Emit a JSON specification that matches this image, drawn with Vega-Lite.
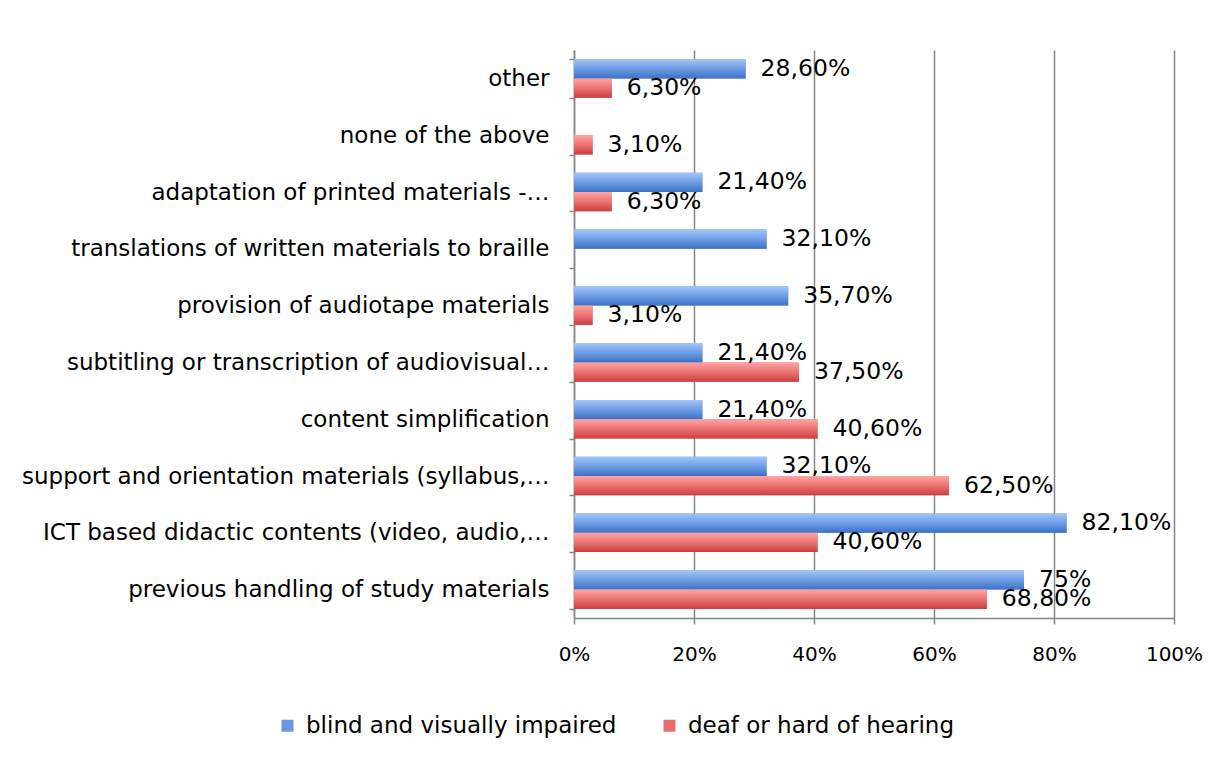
{
  "$schema": "https://vega.github.io/schema/vega-lite/v6.json",
  "width": 600,
  "height": 568,
  "autosize": "none",
  "padding": {"left": 574, "top": 50, "right": 46, "bottom": 140},
  "background": "white",
  "config": {
    "font": "DejaVu Sans",
    "view": {"stroke": null}
  },
  "data": {
    "values": [
      {"category": "other", "series": "blind and visually impaired", "value": 28.6, "label": "28,60%"},
      {"category": "other", "series": "deaf or hard of hearing", "value": 6.3, "label": "6,30%"},
      {"category": "none of the above", "series": "deaf or hard of hearing", "value": 3.1, "label": "3,10%"},
      {"category": "adaptation of printed materials -…", "series": "blind and visually impaired", "value": 21.4, "label": "21,40%"},
      {"category": "adaptation of printed materials -…", "series": "deaf or hard of hearing", "value": 6.3, "label": "6,30%"},
      {"category": "translations of written materials to braille", "series": "blind and visually impaired", "value": 32.1, "label": "32,10%"},
      {"category": "provision of audiotape materials", "series": "blind and visually impaired", "value": 35.7, "label": "35,70%"},
      {"category": "provision of audiotape materials", "series": "deaf or hard of hearing", "value": 3.1, "label": "3,10%"},
      {"category": "subtitling or transcription of audiovisual…", "series": "blind and visually impaired", "value": 21.4, "label": "21,40%"},
      {"category": "subtitling or transcription of audiovisual…", "series": "deaf or hard of hearing", "value": 37.5, "label": "37,50%"},
      {"category": "content simplification", "series": "blind and visually impaired", "value": 21.4, "label": "21,40%"},
      {"category": "content simplification", "series": "deaf or hard of hearing", "value": 40.6, "label": "40,60%"},
      {"category": "support and orientation materials (syllabus,…", "series": "blind and visually impaired", "value": 32.1, "label": "32,10%"},
      {"category": "support and orientation materials (syllabus,…", "series": "deaf or hard of hearing", "value": 62.5, "label": "62,50%"},
      {"category": "ICT based didactic contents (video, audio,…", "series": "blind and visually impaired", "value": 82.1, "label": "82,10%"},
      {"category": "ICT based didactic contents (video, audio,…", "series": "deaf or hard of hearing", "value": 40.6, "label": "40,60%"},
      {"category": "previous handling of study materials", "series": "blind and visually impaired", "value": 75, "label": "75%"},
      {"category": "previous handling of study materials", "series": "deaf or hard of hearing", "value": 68.8, "label": "68,80%"}
    ]
  },
  "encoding": {
    "y": {
      "field": "category",
      "type": "nominal",
      "sort": [
        "other",
        "none of the above",
        "adaptation of printed materials -…",
        "translations of written materials to braille",
        "provision of audiotape materials",
        "subtitling or transcription of audiovisual…",
        "content simplification",
        "support and orientation materials (syllabus,…",
        "ICT based didactic contents (video, audio,…",
        "previous handling of study materials"
      ],
      "scale": {"paddingInner": 0.32, "paddingOuter": 0.16},
      "axis": {
        "title": null,
        "grid": false,
        "tickBand": "extent",
        "tickSize": 5,
        "tickColor": "#868686",
        "tickWidth": 1.5,
        "domainColor": "#868686",
        "domainWidth": 1.5,
        "labelFont": "DejaVu Sans",
        "labelFontSize": 23,
        "labelColor": "#000000",
        "labelPadding": 20,
        "labelLimit": 0
      }
    },
    "yOffset": {
      "field": "series",
      "type": "nominal",
      "sort": ["blind and visually impaired", "deaf or hard of hearing"]
    },
    "x": {
      "field": "value",
      "type": "quantitative",
      "scale": {"domain": [0, 100], "nice": false},
      "axis": {
        "title": null,
        "values": [0, 20, 40, 60, 80, 100],
        "labelExpr": "datum.value + '%'",
        "labelFlush": false,
        "grid": true,
        "gridColor": "#868686",
        "gridWidth": 1.5,
        "tickSize": 6,
        "tickColor": "#868686",
        "tickWidth": 1.5,
        "domainColor": "#868686",
        "domainWidth": 1.5,
        "labelFont": "DejaVu Sans",
        "labelFontSize": 20,
        "labelColor": "#000000",
        "labelPadding": 20
      }
    }
  },
  "layer": [
    {
      "mark": {"type": "bar"},
      "encoding": {
        "color": {
          "field": "series",
          "type": "nominal",
          "scale": {
            "domain": ["blind and visually impaired", "deaf or hard of hearing"],
            "range": ["#6a98e0", "#e86c6c"]
          },
          "legend": {
            "title": null,
            "orient": "none",
            "legendX": -298,
            "legendY": 664,
            "direction": "horizontal",
            "symbolType": "square",
            "symbolSize": 144,
            "symbolStrokeWidth": 0,
            "labelFont": "DejaVu Sans",
            "labelFontSize": 23,
            "labelColor": "#000000",
            "labelOffset": 7,
            "columnPadding": 41,
            "labelLimit": 0
          }
        }
      }
    },
    {
      "transform": [{"filter": "datum.series === 'blind and visually impaired'"}],
      "mark": {
        "type": "bar",
        "color": {"gradient": "linear", "x1": 0, "y1": 0, "x2": 0, "y2": 1, "stops": [{"offset": 0, "color": "#a2c6fa"}, {"offset": 0.5, "color": "#6e9ce4"}, {"offset": 1, "color": "#3b72c4"}]}
      },
      "encoding": {}
    },
    {
      "transform": [{"filter": "datum.series === 'deaf or hard of hearing'"}],
      "mark": {
        "type": "bar",
        "color": {"gradient": "linear", "x1": 0, "y1": 0, "x2": 0, "y2": 1, "stops": [{"offset": 0, "color": "#ffa4a4"}, {"offset": 0.5, "color": "#ec7272"}, {"offset": 1, "color": "#cc3e3e"}]}
      },
      "encoding": {}
    },
    {
      "mark": {"type": "text", "align": "left", "baseline": "middle", "dx": 15, "fontSize": 23.5, "font": "DejaVu Sans", "color": "#000000"},
      "encoding": {
        "text": {"field": "label", "type": "nominal"}
      }
    }
  ]
}
